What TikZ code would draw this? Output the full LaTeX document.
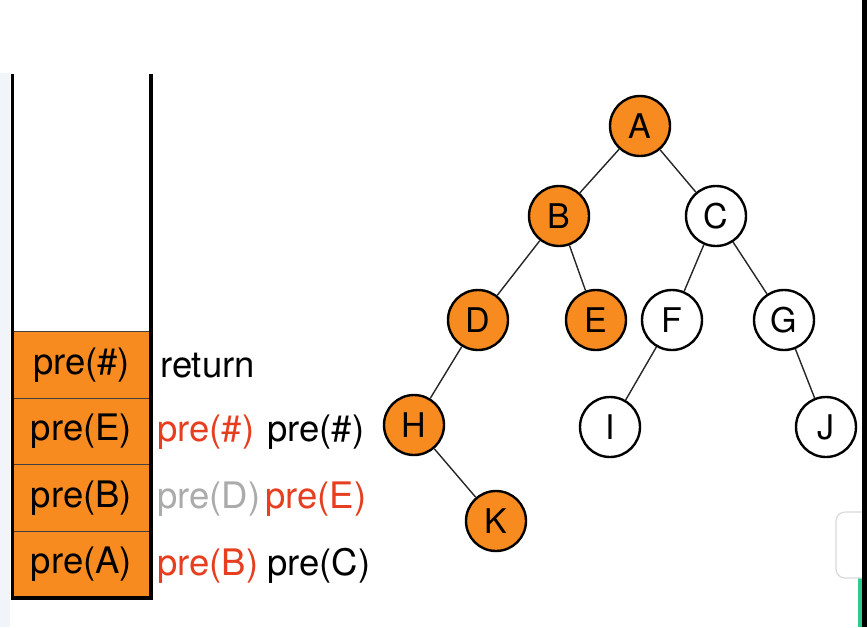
\documentclass[tikz,border=0pt]{standalone}
\usepackage{fontspec}
\setmainfont{TeX Gyre Heros}
\definecolor{orng}{HTML}{F78B1F}
\definecolor{redtxt}{HTML}{E63E1F}
\definecolor{greytxt}{HTML}{ABABAB}
\definecolor{leftstrip}{HTML}{F1F4F9}
\definecolor{greenbar}{HTML}{2FCB8A}
\begin{document}
\begin{tikzpicture}[x=1pt,y=-1pt,
  tnode/.style={circle,draw=black,line width=2.4pt,minimum size=60pt,inner sep=0pt,font=\fontsize{34}{38}\selectfont},
  onode/.style={tnode,fill=orng},
  wnode/.style={tnode,fill=white},
  edge/.style={draw=black!85,line width=1.4pt},
  cell/.style={draw=black!75,line width=1pt,fill=orng,minimum width=137pt,minimum height=66.5pt,inner sep=0pt,font=\fontsize{36.5}{42}\selectfont},
  lbl/.style={anchor=base west,inner sep=0pt,font=\fontsize{36.5}{42}\selectfont},
  wall/.style={line width=3.2pt,draw=black}
]
\useasboundingbox (0,0) rectangle (867,627);
\fill[white] (0,0) rectangle (867,627);
\fill[leftstrip] (0,73) rectangle (10,627);

% stack cells
\node[cell] (c1) at (81.5,365) {pre(\#)};
\node[cell] (c2) at (81.5,431.5) {pre(E)};
\node[cell] (c3) at (81.5,498) {pre(B)};
\node[cell] (c4) at (81.5,564.5) {pre(A)};
% stack walls
\coordinate (tl) at (12.5,74);
\coordinate (bl) at (12.5,598);
\coordinate (br) at (151,598);
\coordinate (tr) at (151,74);
\draw[wall] (tl) -- (bl) -- (br) -- (tr);

% labels
\node[lbl] (r1) at (160,377) {return};
\node[lbl,text=redtxt] (r2a) at (157,441) {pre(\#)};
\node[lbl] (r2b) at (267,441) {pre(\#)};
\node[lbl,text=greytxt] (r3a) at (157,508) {pre(D)};
\node[lbl,text=redtxt] (r3b) at (265,508) {pre(E)};
\node[lbl,text=redtxt] (r4a) at (157,575) {pre(B)};
\node[lbl] (r4b) at (267,575) {pre(C)};

% tree
\node[onode] (A) at (640,126) {A};
\node[onode] (B) at (559,216) {B};
\node[wnode] (C) at (716,216) {C};
\node[onode] (D) at (478,320) {D};
\node[onode] (E) at (596,320) {E};
\node[wnode] (F) at (672,320) {F};
\node[wnode] (G) at (784,320) {G};
\node[onode] (H) at (414,425) {H};
\node[wnode] (I) at (610,427) {I};
\node[wnode] (J) at (826,427) {J};
\node[onode] (K) at (496,521) {K};
\path[edge] (A) -- (B);
\path[edge] (A) -- (C);
\path[edge] (B) -- (D);
\path[edge] (B) -- (E);
\path[edge] (C) -- (F);
\path[edge] (C) -- (G);
\path[edge] (D) -- (H);
\path[edge] (F) -- (I);
\path[edge] (G) -- (J);
\path[edge] (H) -- (K);

% screen artifacts at right edge
\fill[greenbar] (857.5,570) rectangle (862,627);
\draw[black!15,line width=1.2pt,fill=white,rounded corners=9pt] (836,512) rectangle (875,578);
\fill[black] (862,0) rectangle (868,627);
\end{tikzpicture}
\end{document}
